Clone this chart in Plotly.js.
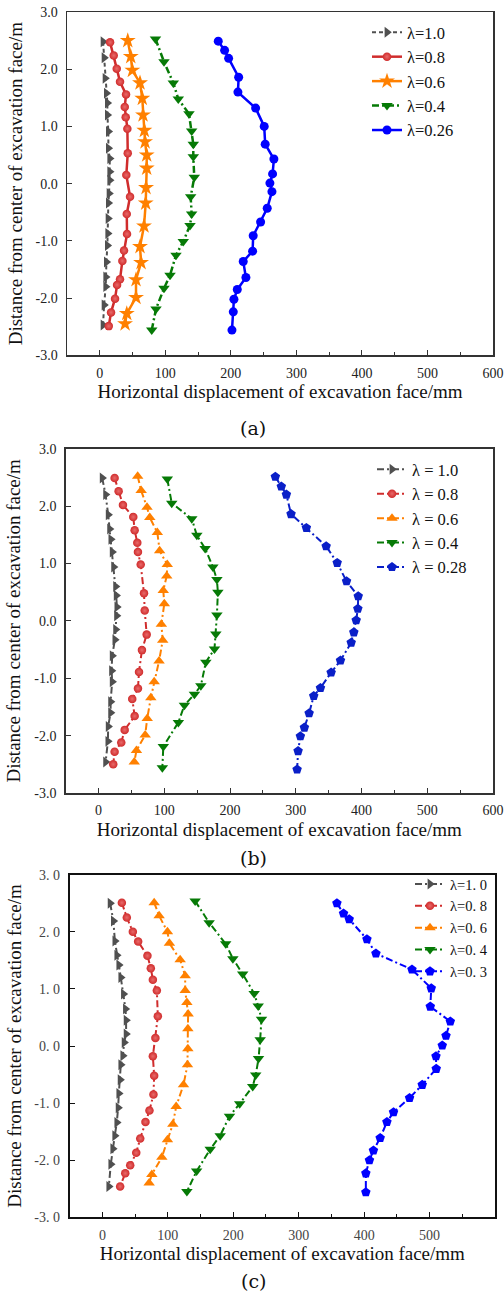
<!DOCTYPE html>
<html>
<head>
<meta charset="utf-8">
<script src="https://cdn.plot.ly/plotly-3.0.1.min.js"></script>
<style>html,body{margin:0;padding:0;background:#fff;}#chart{width:504px;height:1292px;}</style>
</head>
<body>
<div id="chart"></div>
<script>
// ---------- tick labels ----------
var X_TICKS = [0, 100, 200, 300, 400, 500, 600];
var X_TICK_TEXT = ['0', '100', '200', '300', '400', '500', '600'];
var Y_TICKS = [-3, -2, -1, 0, 1, 2, 3];
var Y_TICK_TEXT = ['-3.0', '-2.0', '-1.0', '0.0', '1.0', '2.0', '3.0'];
var C_Y_TICK_TEXT = ['-3. 0', '-2. 0', '-1. 0', '0. 0', '1. 0', '2. 0', '3. 0'];

// ---------- legend names ----------
var A_NAMES = ['λ=1.0', 'λ=0.8', 'λ=0.6', 'λ=0.4', 'λ=0.26'];
var B_NAMES = ['λ = 1.0', 'λ = 0.8', 'λ = 0.6', 'λ = 0.4', 'λ = 0.28'];
var C_NAMES = ['λ=1. 0', 'λ=0. 8', 'λ=0. 6', 'λ=0. 4', 'λ=0. 3'];

var X_TITLE = 'Horizontal displacement of excavation face/mm';
var Y_TITLE = 'Distance from center of excavation face/m';
var CAPTIONS = ['(a)', '(b)', '(c)'];

// ---------- panel (a) ----------
var A_X_L10 = [5.0, 6.6, 8.1, 10.1, 11.6, 11.6, 13.1, 13.1, 15.2, 15.2, 15.2, 14.2, 13.1, 12.7, 12.2, 11.6, 10.1, 9.1, 9.1, 6.6, 5.0];
var A_Y_L10 = [2.48, 2.20, 1.84, 1.58, 1.41, 1.20, 0.91, 0.62, 0.44, 0.21, 0.06, -0.17, -0.34, -0.61, -0.87, -1.08, -1.37, -1.63, -1.80, -2.12, -2.47];
var A_X_L08 = [15.7, 21.3, 25.9, 30.9, 40.1, 38.1, 39.6, 42.1, 42.7, 40.5, 46.2, 41.2, 41.6, 37.0, 34.5, 30.9, 26.4, 23.3, 17.2, 13.7];
var A_Y_L08 = [2.47, 2.24, 2.01, 1.78, 1.56, 1.34, 1.16, 0.96, 0.53, 0.15, -0.23, -0.53, -0.88, -1.17, -1.35, -1.67, -1.77, -2.01, -2.25, -2.49];
var A_X_L06 = [42.7, 47.3, 49.7, 61.4, 64.9, 66.0, 68.0, 69.1, 71.6, 71.6, 70.6, 70.1, 67.5, 61.4, 63.0, 55.3, 55.3, 41.2, 38.6];
var A_Y_L06 = [2.50, 2.22, 1.98, 1.76, 1.49, 1.20, 0.93, 0.73, 0.50, 0.27, -0.07, -0.34, -0.74, -1.10, -1.38, -1.68, -1.99, -2.27, -2.45];
var A_X_L04 = [85.0, 98.0, 112.2, 119.8, 136.1, 140.2, 142.7, 142.7, 144.2, 138.7, 140.2, 137.7, 127.4, 116.3, 107.2, 98.0, 85.8, 79.3];
var A_Y_L04 = [2.53, 2.13, 1.76, 1.48, 1.22, 0.92, 0.69, 0.47, 0.11, -0.23, -0.53, -0.73, -1.01, -1.25, -1.60, -1.83, -2.19, -2.56];
var A_X_L026 = [180.8, 190.5, 196.6, 211.9, 210.8, 237.8, 250.9, 252.4, 265.7, 263.7, 259.6, 262.7, 255.5, 245.4, 234.1, 233.2, 218.9, 223.0, 209.8, 204.7, 203.7, 201.7];
var A_Y_L026 = [2.49, 2.33, 2.19, 1.86, 1.60, 1.32, 1.00, 0.69, 0.43, 0.17, 0.01, -0.14, -0.43, -0.67, -0.91, -1.18, -1.36, -1.64, -1.85, -2.02, -2.24, -2.56];

// ---------- panel (b) ----------
var B_X_L10 = [5.5, 10.7, 14.6, 16.8, 18.7, 20.7, 22.9, 25.9, 26.8, 27.9, 27.4, 25.9, 24.8, 20.7, 19.8, 20.7, 18.3, 18.3, 14.6, 14.2, 10.7];
var B_Y_L10 = [2.49, 2.20, 1.85, 1.60, 1.42, 1.20, 0.94, 0.60, 0.44, 0.24, 0.09, -0.15, -0.33, -0.61, -0.87, -1.06, -1.41, -1.60, -1.84, -2.10, -2.46];
var B_X_L08 = [24.4, 30.5, 37.1, 52.8, 54.9, 58.9, 59.9, 64.1, 69.1, 70.2, 73.2, 66.0, 61.5, 59.9, 51.2, 54.9, 39.7, 34.5, 24.4, 22.3];
var B_Y_L08 = [2.49, 2.26, 2.02, 1.81, 1.58, 1.36, 1.20, 0.98, 0.48, 0.18, -0.24, -0.51, -0.89, -1.18, -1.36, -1.66, -1.90, -2.12, -2.28, -2.50];
var B_X_L06 = [59.5, 64.8, 73.7, 77.9, 89.4, 92.9, 104.5, 103.7, 98.4, 100.0, 95.5, 97.6, 92.0, 84.6, 79.5, 74.0, 70.9, 57.6, 54.3];
var B_Y_L06 = [2.52, 2.27, 1.98, 1.80, 1.54, 1.22, 0.98, 0.78, 0.53, 0.30, -0.06, -0.34, -0.70, -1.06, -1.34, -1.70, -1.99, -2.26, -2.46];
var B_X_L04 = [104.6, 111.3, 141.8, 149.5, 162.1, 173.9, 180.0, 181.5, 180.0, 178.4, 176.3, 163.2, 155.6, 145.8, 130.6, 121.4, 98.5, 97.0];
var B_Y_L04 = [2.47, 2.05, 1.78, 1.49, 1.26, 0.94, 0.72, 0.50, 0.10, -0.23, -0.49, -0.72, -1.13, -1.28, -1.47, -1.77, -2.19, -2.56];
var B_X_L028 = [268.9, 278.0, 285.7, 292.8, 316.1, 346.2, 363.0, 377.2, 395.0, 394.4, 391.9, 388.3, 384.3, 368.0, 353.8, 337.5, 327.3, 320.3, 313.1, 307.0, 303.5, 302.0];
var B_Y_L028 = [2.51, 2.34, 2.20, 1.86, 1.62, 1.30, 1.01, 0.69, 0.43, 0.21, 0.01, -0.20, -0.38, -0.69, -0.90, -1.17, -1.31, -1.61, -1.86, -2.01, -2.27, -2.59];

// ---------- panel (c) ----------
var C_X_L10 = [11.8, 16.8, 19.0, 22.0, 25.1, 28.1, 32.1, 35.2, 36.2, 36.2, 33.2, 31.2, 28.1, 27.1, 25.1, 24.0, 22.0, 18.9, 15.9, 12.8, 9.8];
var C_Y_L10 = [2.50, 2.19, 1.84, 1.59, 1.42, 1.20, 0.91, 0.65, 0.45, 0.21, 0.06, -0.17, -0.33, -0.59, -0.83, -1.08, -1.34, -1.57, -1.80, -2.07, -2.46];
var C_X_L08 = [29.7, 37.3, 46.5, 54.6, 68.8, 74.0, 77.1, 83.2, 84.7, 81.0, 77.1, 79.1, 78.0, 71.9, 65.8, 57.8, 51.7, 42.5, 34.9, 27.1];
var C_Y_L08 = [2.51, 2.25, 2.00, 1.83, 1.58, 1.36, 1.16, 0.97, 0.52, 0.14, -0.18, -0.52, -0.85, -1.13, -1.33, -1.62, -1.87, -2.09, -2.23, -2.46];
var C_X_L06 = [79.1, 86.7, 99.4, 102.4, 118.8, 126.5, 126.5, 129.1, 131.0, 130.6, 130.6, 130.0, 123.9, 112.7, 107.6, 99.4, 90.8, 75.5, 71.4];
var C_Y_L06 = [2.51, 2.28, 2.00, 1.80, 1.51, 1.23, 0.97, 0.76, 0.56, 0.30, -0.05, -0.33, -0.68, -1.06, -1.37, -1.64, -1.95, -2.25, -2.40];
var C_X_L04 = [141.7, 163.1, 188.4, 199.4, 214.4, 231.9, 238.1, 243.1, 241.1, 238.6, 234.3, 229.7, 209.8, 194.2, 180.0, 164.7, 144.0, 129.1];
var C_Y_L04 = [2.54, 2.16, 1.79, 1.53, 1.26, 0.92, 0.70, 0.47, 0.11, -0.22, -0.51, -0.71, -1.01, -1.23, -1.57, -1.81, -2.19, -2.55];
var C_X_L03 = [358.4, 368.5, 377.2, 404.3, 418.0, 473.1, 502.6, 501.1, 531.7, 525.1, 519.4, 509.8, 510.2, 488.8, 469.4, 444.9, 434.8, 424.5, 414.2, 408.1, 402.6, 402.6];
var C_Y_L03 = [2.50, 2.32, 2.22, 1.87, 1.62, 1.34, 1.01, 0.69, 0.43, 0.18, 0.01, -0.18, -0.40, -0.68, -0.91, -1.16, -1.33, -1.61, -1.83, -2.00, -2.23, -2.56];

// ---------- styles ----------
var GRAY = '#505050', RED = '#d02c2c', ORANGE = '#ff8000', GREEN = '#067a06', BLUE = '#0000ff', BLUE_B = '#0a1fc8';
var DASHDOT = '7px,3px,2px,3px';
var SERIF = 'Liberation Serif, Times New Roman, serif';

function tr(x, y, name, color, symbol, size, dash, width, xa, ya, legend, extra) {
  var m = {symbol: symbol, size: size, color: color, line: {width: 0}};
  if (extra) m.gradient = extra;
  return {
    x: x, y: y, name: name, type: 'scatter', mode: 'lines+markers',
    xaxis: xa, yaxis: ya, legend: legend,
    line: {color: color, width: width, dash: dash},
    marker: m
  };
}
var REDGRAD = {type: 'radial', color: '#e86a6a'};

var data = [
  tr(A_X_L10, A_Y_L10, A_NAMES[0], GRAY, 'triangle-right', 9.5, '4px,3px', 2, 'x', 'y', 'legend'),
  tr(A_X_L08, A_Y_L08, A_NAMES[1], RED, 'circle', 8.5, 'solid', 2.5, 'x', 'y', 'legend', REDGRAD),
  tr(A_X_L06, A_Y_L06, A_NAMES[2], ORANGE, 'star', 12, 'solid', 2.5, 'x', 'y', 'legend'),
  tr(A_X_L04, A_Y_L04, A_NAMES[3], GREEN, 'triangle-down', 10, DASHDOT, 2.5, 'x', 'y', 'legend'),
  tr(A_X_L026, A_Y_L026, A_NAMES[4], BLUE, 'circle', 9, 'solid', 2.5, 'x', 'y', 'legend'),

  tr(B_X_L10, B_Y_L10, B_NAMES[0], GRAY, 'triangle-right', 9.5, DASHDOT, 2, 'x2', 'y2', 'legend2'),
  tr(B_X_L08, B_Y_L08, B_NAMES[1], RED, 'circle', 8.5, DASHDOT, 2, 'x2', 'y2', 'legend2', REDGRAD),
  tr(B_X_L06, B_Y_L06, B_NAMES[2], ORANGE, 'triangle-up', 10, DASHDOT, 2, 'x2', 'y2', 'legend2'),
  tr(B_X_L04, B_Y_L04, B_NAMES[3], GREEN, 'triangle-down', 10, DASHDOT, 2, 'x2', 'y2', 'legend2'),
  tr(B_X_L028, B_Y_L028, B_NAMES[4], BLUE_B, 'pentagon', 10, DASHDOT, 2, 'x2', 'y2', 'legend2'),

  tr(C_X_L10, C_Y_L10, C_NAMES[0], GRAY, 'triangle-right', 9.5, DASHDOT, 2, 'x3', 'y3', 'legend3'),
  tr(C_X_L08, C_Y_L08, C_NAMES[1], RED, 'circle', 8.5, DASHDOT, 2, 'x3', 'y3', 'legend3', REDGRAD),
  tr(C_X_L06, C_Y_L06, C_NAMES[2], ORANGE, 'triangle-up', 10, DASHDOT, 2, 'x3', 'y3', 'legend3'),
  tr(C_X_L04, C_Y_L04, C_NAMES[3], GREEN, 'triangle-down', 10, DASHDOT, 2, 'x3', 'y3', 'legend3'),
  tr(C_X_L03, C_Y_L03, C_NAMES[4], BLUE, 'pentagon', 10, DASHDOT, 2, 'x3', 'y3', 'legend3')
];

var W = 504, H = 1292;
function px(v) { return v / W; }
function py(v) { return 1 - v / H; }

function xax(dom, anchor, lineW, lineC, tcol) {
  return {
    domain: dom, anchor: anchor, range: [-50, 600], fixedrange: true,
    tickmode: 'array', tickvals: X_TICKS, ticktext: X_TICK_TEXT,
    ticks: 'inside', ticklen: 5, tickwidth: 1, tickcolor: lineC,
    minor: {tickmode: 'linear', tick0: -50, dtick: 100, ticks: 'inside', ticklen: 3, tickwidth: 1, tickcolor: lineC},
    showline: true, mirror: true, linecolor: lineC, linewidth: lineW,
    showgrid: false, zeroline: false,
    tickfont: {family: SERIF, size: 14, color: tcol},
    ticklabelstandoff: 4,
    title: {text: X_TITLE, font: {family: SERIF, size: 19, color: '#111'}, standoff: 5}
  };
}
function yax(dom, anchor, lineW, lineC, ttext, tcol) {
  return {
    domain: dom, anchor: anchor, range: [-3, 3], fixedrange: true,
    tickmode: 'array', tickvals: Y_TICKS, ticktext: ttext,
    ticks: 'inside', ticklen: 5, tickwidth: 1, tickcolor: lineC,
    showline: true, mirror: true, linecolor: lineC, linewidth: lineW,
    showgrid: false, zeroline: false,
    tickfont: {family: SERIF, size: 14, color: tcol},
    ticklabelstandoff: 5,
    title: {text: Y_TITLE, font: {family: SERIF, size: 19, color: '#111'}, standoff: 8}
  };
}

var legBase = function (x, y, size) {
  return {x: x, y: y, xanchor: 'left', yanchor: 'top', bgcolor: 'rgba(0,0,0,0)', borderwidth: 0,
    font: {family: SERIF, size: size, color: '#111'}, itemsizing: 'trace'};
};

var CAP_FONT = {family: 'DejaVu Serif, serif', size: 19, color: '#111'};

var layout = {
  width: W, height: H,
  margin: {l: 0, r: 0, t: 0, b: 0},
  paper_bgcolor: '#fff', plot_bgcolor: '#fff',
  showlegend: true,
  xaxis: xax([px(67), px(493)], 'y', 1.5, '#333', '#222'),
  yaxis: yax([py(355.3), py(12)], 'x', 1.5, '#333', Y_TICK_TEXT, '#222'),
  xaxis2: xax([px(65.7), px(493)], 'y2', 1.5, '#333', '#222'),
  yaxis2: yax([py(793), py(448.7)], 'x2', 1.5, '#333', Y_TICK_TEXT, '#222'),
  xaxis3: xax([px(69.7), px(495)], 'y3', 2, '#111', '#444'),
  yaxis3: yax([py(1217.3), py(874.7)], 'x3', 2, '#111', C_Y_TICK_TEXT, '#444'),
  legend: legBase(px(367), py(15), 16.5),
  legend2: legBase(px(372), py(452), 16.5),
  legend3: legBase(px(410), py(868), 14.5),
  annotations: [
    {text: CAPTIONS[0], xref: 'paper', yref: 'paper', x: px(253), y: py(428), showarrow: false, xanchor: 'center', yanchor: 'middle', font: CAP_FONT},
    {text: CAPTIONS[1], xref: 'paper', yref: 'paper', x: px(253), y: py(858), showarrow: false, xanchor: 'center', yanchor: 'middle', font: CAP_FONT},
    {text: CAPTIONS[2], xref: 'paper', yref: 'paper', x: px(253), y: py(1281), showarrow: false, xanchor: 'center', yanchor: 'middle', font: CAP_FONT}
  ]
};

Plotly.newPlot('chart', data, layout, {staticPlot: true, displayModeBar: false});
</script>
</body>
</html>
